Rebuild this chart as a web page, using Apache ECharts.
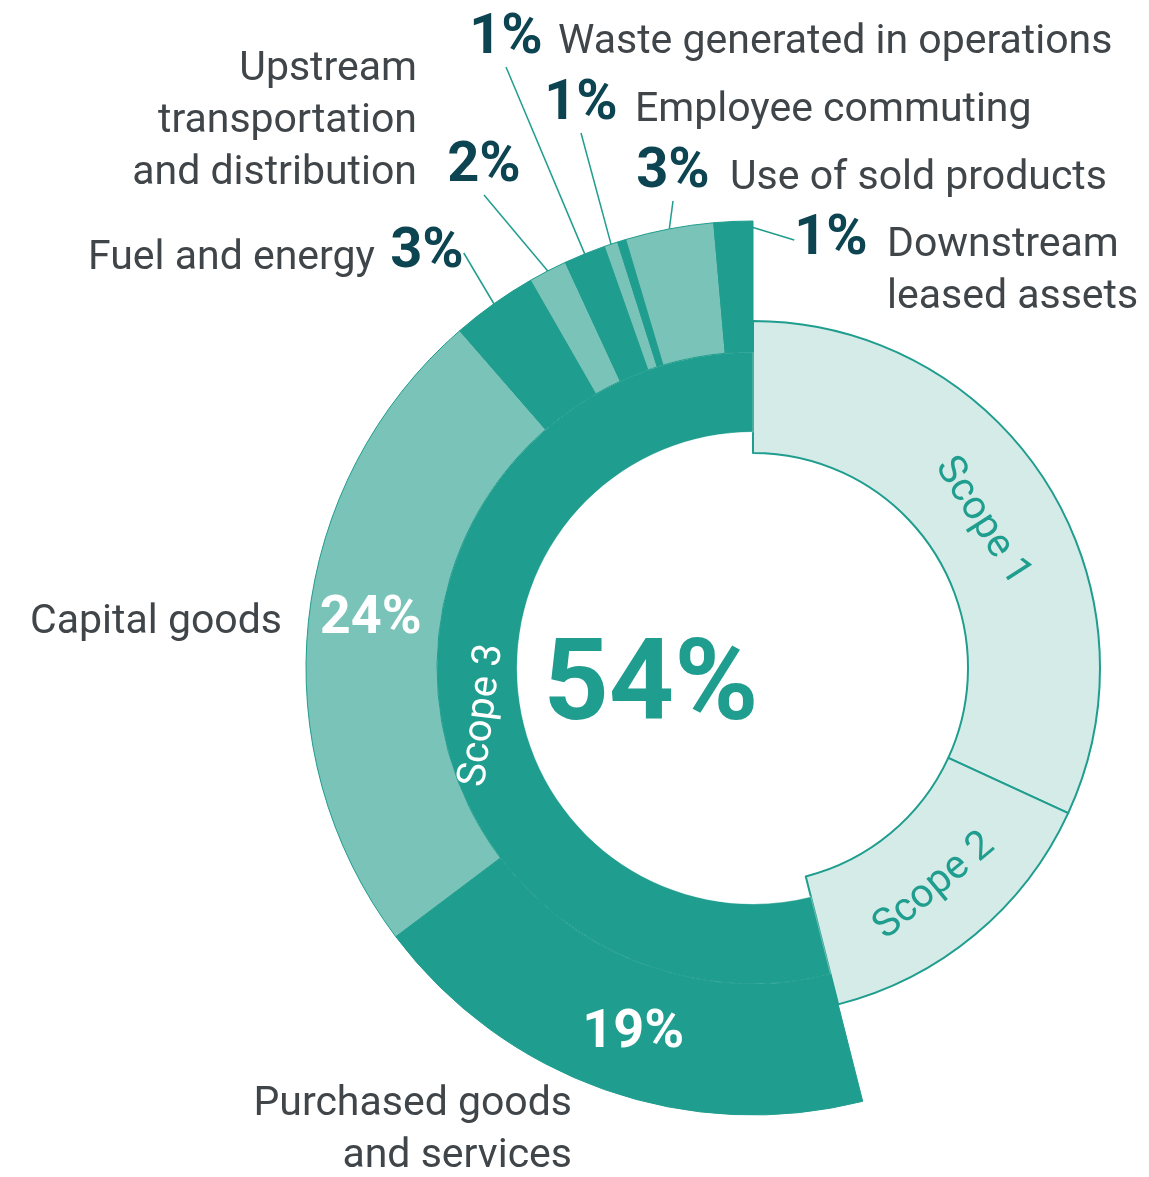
<!DOCTYPE html>
<html>
<head>
<meta charset="utf-8">
<title>Emissions by scope</title>
<script src="https://cdn.jsdelivr.net/npm/echarts@6/dist/echarts.min.js"></script>
<style>
  html, body { margin: 0; padding: 0; background: #fff; }
  #scope-chart { width: 1149px; height: 1177px; }
</style>
</head>
<body>
<div id="scope-chart"></div>
<script>
// share of total emissions (%)
var scopeNames = ['Scope 1', 'Scope 2'];
var scopeValues = [31.9, 14.2];

// scope 3 categories, clockwise from the end of Scope 2 (bottom) up to 12 o'clock
var catNames = [
  'Purchased goods\nand services',
  'Capital goods',
  'Fuel and energy',
  'Upstream\ntransportation\nand distribution',
  'Waste generated in operations',
  'Employee commuting',
  '',
  'Use of sold products',
  'Downstream\nleased assets'
];
var catValues = [18.7, 23.9, 3.1, 1.4, 1.5, 0.5, 0.3, 3.2, 1.4];
var catLabels = ['19%', '24%', '3%', '2%', '1%', '1%', '', '3%', '1%'];

var DARK = '#1f9d8e', LIGHT = '#7ac3b8', PALE = '#d4ebe7';
var NAVY = '#0d4452', GREY = '#404549';
var FONT = 'Roboto, "DejaVu Sans", sans-serif';
var CENTER = [753, 668];

// where the outside texts sit (x, y, align)
var pctSpots = [null, null, [427, 253], [484, 167], [506, 39], [581, 105], null, [673, 173], [831, 240]];
var nameSpots = [
  [572, 1131, 'right'], [282, 623, 'right'], [375, 259, 'right'], [417, 122, 'right'],
  [558, 43, 'left'], [635, 111, 'left'], null, [730, 179, 'left'], [887, 272, 'left']
];
// small nudges for the texts inside the rings (in the text's own frame)
var insideNudge = [[8, 3], [0, -8]];

function sum(arr) {
  return arr.reduce(function (s, v) { return s + v; }, 0);
}
var scope3Total = sum(catValues);
var scope12Total = sum(scopeValues);
// Scope 3 text runs bottom to top along the left side of the ring
var scope3MidDeg = scope3Total / (scope12Total + scope3Total) * 180;

var hole = {
  value: scope12Total,
  name: 'rest',
  itemStyle: { color: 'transparent', borderWidth: 0 },
  label: { show: false },
  labelLine: { show: false }
};

// outer ring with the percentages
var outerData = [hole];
catNames.forEach(function (n, i) {
  var big = catValues[i] > 10;
  outerData.push({
    name: n,
    value: catValues[i],
    itemStyle: { color: i % 2 ? LIGHT : DARK },
    label: big
      ? { position: 'inside', color: '#fff', fontSize: 54, formatter: catLabels[i] }
      : { show: catLabels[i] !== '', formatter: catLabels[i] },
    labelLine: { show: !big && catLabels[i] !== '' }
  });
});

// same ring again, invisible, only carrying the category names
var nameData = [hole];
catNames.forEach(function (n, i) {
  nameData.push({
    name: n,
    value: catValues[i],
    itemStyle: { color: 'transparent', borderWidth: 0 },
    label: { show: n !== '' }
  });
});

var scopeChart = echarts.init(document.getElementById('scope-chart'));

var option = {
  animation: false,
  backgroundColor: '#fff',
  series: [
    {
      type: 'pie',
      name: 'Scope 1 and 2',
      center: CENTER,
      radius: [215, 347],
      startAngle: 90,
      clockwise: true,
      silent: true,
      avoidLabelOverlap: false,
      emphasis: { disabled: true },
      itemStyle: { borderColor: DARK, borderWidth: 2 },
      label: {
        position: 'inside',
        rotate: 'tangential',
        color: DARK,
        fontFamily: FONT,
        fontSize: 40,
        formatter: '{b}'
      },
      labelLine: { show: false },
      data: scopeNames.map(function (n, i) {
        return { name: n, value: scopeValues[i], itemStyle: { color: PALE } };
      }).concat([{
        name: 'Scope 3',
        value: scope3Total,
        itemStyle: { color: 'transparent', borderWidth: 0 },
        label: {
          position: 'center',
          color: DARK,
          fontSize: 114,
          fontWeight: 'bold',
          formatter: Math.round(scope3Total) + '%'
        }
      }]),
      labelLayout: function (p) {
        if (p.dataIndex === 0) {
          return { dx: 0, dy: 12 };
        }
        if (p.dataIndex === 2) {
          return { x: 651, y: 690, align: 'center', verticalAlign: 'middle' };
        }
      }
    },
    {
      type: 'pie',
      name: 'Scope 3',
      center: CENTER,
      radius: [236, 316],
      startAngle: 90,
      clockwise: true,
      silent: true,
      avoidLabelOverlap: false,
      emphasis: { disabled: true },
      itemStyle: { borderColor: 'rgba(255,255,255,0.35)', borderWidth: 1 },
      label: {
        position: 'inside',
        rotate: 180 - scope3MidDeg,
        color: '#fff',
        fontFamily: FONT,
        fontSize: 40,
        formatter: '{b}'
      },
      labelLine: { show: false },
      data: [hole, { name: 'Scope 3', value: scope3Total, itemStyle: { color: DARK } }],
      labelLayout: function (p) {
        if (p.dataIndex === 1) {
          return { dx: -12, dy: 8 };
        }
      }
    },
    {
      type: 'pie',
      name: 'Scope 3 names',
      center: CENTER,
      radius: [316, 447],
      startAngle: 90,
      clockwise: true,
      silent: true,
      avoidLabelOverlap: false,
      emphasis: { disabled: true },
      label: {
        position: 'inside',
        color: GREY,
        fontFamily: FONT,
        fontSize: 41,
        lineHeight: 52,
        formatter: '{b}'
      },
      labelLine: { show: false },
      data: nameData,
      labelLayout: function (p) {
        var s = nameSpots[p.dataIndex - 1];
        if (!s) return;
        return { x: s[0], y: s[1], align: s[2], verticalAlign: 'middle' };
      }
    },
    {
      type: 'pie',
      name: 'Scope 3 categories',
      center: CENTER,
      radius: [316, 447],
      startAngle: 90,
      clockwise: true,
      silent: true,
      avoidLabelOverlap: false,
      emphasis: { disabled: true },
      itemStyle: { borderColor: DARK, borderWidth: 1 },
      label: {
        position: 'outside',
        color: NAVY,
        fontFamily: FONT,
        fontSize: 56,
        fontWeight: 'bold'
      },
      labelLine: {
        length: 10,
        length2: 0,
        lineStyle: { color: DARK, width: 1.5 }
      },
      data: outerData,
      labelLayout: function (p) {
        var i = p.dataIndex - 1;
        if (insideNudge[i]) {
          return { dx: insideNudge[i][0], dy: insideNudge[i][1] };
        }
        var s = pctSpots[i];
        if (!s) return;
        return { x: s[0], y: s[1], align: 'center', verticalAlign: 'middle' };
      }
    }
  ]
};

scopeChart.setOption(option);
</script>
</body>
</html>
